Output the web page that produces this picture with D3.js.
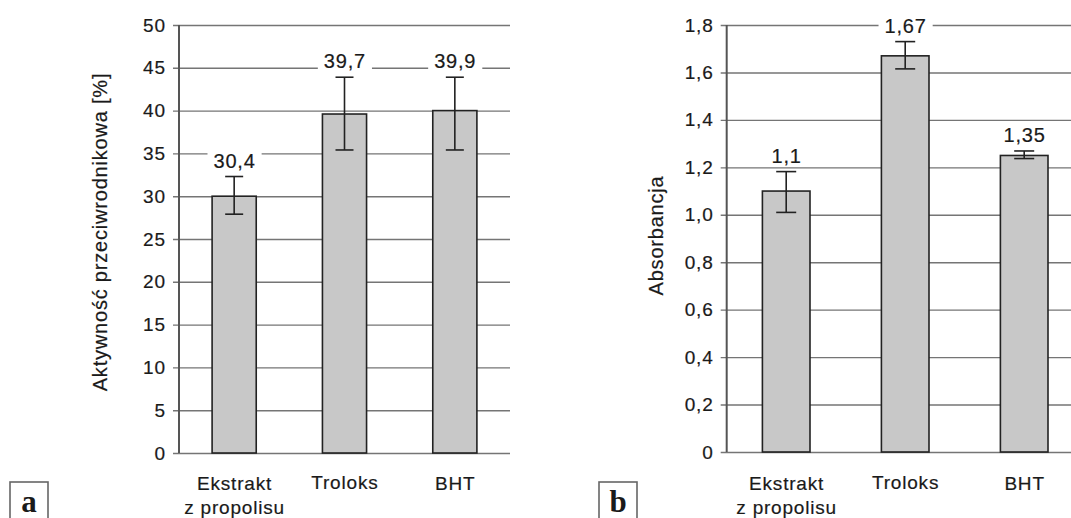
<!DOCTYPE html>
<html>
<head>
<meta charset="utf-8">
<script src="https://cdn.jsdelivr.net/npm/d3@7"></script>
<style>
  html, body { margin: 0; padding: 0; background: #fff; }
  svg { display: block; }
  text.t { font-family: "Liberation Sans", Arial, Helvetica, sans-serif; fill: #1a1a1a; stroke: #1a1a1a; stroke-width: 0.2; }
</style>
</head>
<body>
<svg id="chart" width="1071" height="518"></svg>
<script>
// ---- data ----
const categories = ["Ekstrakt z propolisu", "Troloks", "BHT"];
const categoryLines = [["Ekstrakt", "z propolisu"], ["Troloks"], ["BHT"]];

// panel a
const aValues   = [30.0, 39.6, 40.0];
const aErrLow   = [27.9, 35.4, 35.4];
const aErrHigh  = [32.3, 43.9, 43.9];
const aLabels   = ["30,4", "39,7", "39,9"];
const aTicks    = [0, 5, 10, 15, 20, 25, 30, 35, 40, 45, 50];
const aTitle    = "Aktywność przeciwrodnikowa [%]";

// panel b
const bValues   = [1.10, 1.67, 1.25];
const bErrLow   = [1.01, 1.615, 1.237];
const bErrHigh  = [1.182, 1.730, 1.269];
const bLabels   = ["1,1", "1,67", "1,35"];
const bTicks    = [0, 0.2, 0.4, 0.6, 0.8, 1.0, 1.2, 1.4, 1.6, 1.8];
const bTitle    = "Absorbancja";

const panelLetters = ["a", "b"];

// ---- drawing ----
const svg = d3.select("#chart");
const LS = 0.8;

function drawPanel(opt) {
  const g = svg.append("g");
  const x = d3.scaleBand().domain(categories).range([opt.x0, opt.x1]).paddingInner(0.6).paddingOuter(0.3);
  const y = d3.scaleLinear().domain([opt.ticks[0], opt.ticks[opt.ticks.length - 1]]).range([opt.yBottom, opt.yTop]);

  // gridlines + tick labels via axis
  const axis = d3.axisLeft(y).tickValues(opt.ticks).tickFormat(opt.fmt)
    .tickSizeInner(-(opt.x1 - opt.x0) - 6).tickSizeOuter(0).tickPadding(8);
  const ag = g.append("g").attr("transform", `translate(${opt.x0 - 6},0)`).call(axis);
  ag.select(".domain").remove();
  ag.selectAll(".tick line").attr("stroke", "#757575").attr("stroke-width", 1.4).attr("x1", 0)
    .attr("x2", opt.x1 - opt.x0 + 6);
  ag.selectAll(".tick text").attr("class", "t").attr("font-size", 19).attr("letter-spacing", LS)
    .attr("x", -8 + LS);

  // vertical axis line
  g.append("line").attr("x1", opt.x0).attr("x2", opt.x0)
    .attr("y1", y.range()[1]).attr("y2", y.range()[0])
    .attr("stroke", "#555").attr("stroke-width", 2);

  // bars
  g.selectAll("rect.bar").data(categories).join("rect").attr("class", "bar")
    .attr("x", d => x(d)).attr("width", x.bandwidth())
    .attr("y", (d, i) => y(opt.values[i]))
    .attr("height", (d, i) => y(0) - y(opt.values[i]))
    .attr("fill", "#c8c8c8").attr("stroke", "#222").attr("stroke-width", 1.6);

  // error bars
  const capW = opt.cap;
  categories.forEach((c, i) => {
    const cx = x(c) + x.bandwidth() / 2;
    const eg = g.append("g").attr("stroke", "#222").attr("stroke-width", 1.6);
    eg.append("line").attr("x1", cx).attr("x2", cx).attr("y1", y(opt.errLow[i])).attr("y2", y(opt.errHigh[i]));
    eg.append("line").attr("x1", cx - capW / 2).attr("x2", cx + capW / 2).attr("y1", y(opt.errLow[i])).attr("y2", y(opt.errLow[i]));
    eg.append("line").attr("x1", cx - capW / 2).attr("x2", cx + capW / 2).attr("y1", y(opt.errHigh[i])).attr("y2", y(opt.errHigh[i]));

    // value label with white background
    const lg = g.append("g");
    const bg = lg.append("rect").attr("fill", "#fff");
    const t = lg.append("text").attr("class", "t").attr("x", cx + LS / 2).attr("y", y(opt.errHigh[i]) - 16)
      .attr("text-anchor", "middle").attr("dominant-baseline", "central")
      .attr("font-size", 20).attr("letter-spacing", LS).text(opt.labels[i]);
    const bb = t.node().getBBox();
    bg.attr("x", bb.x - 6).attr("y", bb.y).attr("width", bb.width + 12).attr("height", bb.height);

    // category labels
    const ct = g.append("text").attr("class", "t").attr("text-anchor", "middle").attr("font-size", 19)
      .attr("letter-spacing", LS);
    categoryLines[i].forEach((ln, k) => {
      ct.append("tspan").attr("x", cx + LS / 2).attr("y", 490 + k * 24 - (c === "Troloks" ? 1.5 : 0)).text(ln);
    });
  });

  // y title
  g.append("text").attr("class", "t")
    .attr("transform", `translate(${opt.titleX},${opt.titleY}) rotate(-90)`)
    .attr("text-anchor", "middle").attr("dominant-baseline", "central")
    .attr("font-size", 20).attr("letter-spacing", LS).text(opt.title);

  // panel letter box
  g.append("rect").attr("x", opt.boxX).attr("y", 482).attr("width", 38).attr("height", 40)
    .attr("fill", "none").attr("stroke", "#666").attr("stroke-width", 1.6);
  g.append("text").attr("x", opt.boxX + 19).attr("y", 512).attr("text-anchor", "middle")
    .attr("font-family", "Liberation Serif, Times New Roman, serif").attr("font-weight", "bold")
    .attr("fill", "#1a1a1a").attr("font-size", 31).text(opt.letter);
}

const fmtA = d => String(d);
const fmtB = d => d === 0 ? "0" : d.toFixed(1).replace(".", ",");

drawPanel({ x0: 179, x1: 510, yTop: 25, yBottom: 453, ticks: aTicks, fmt: fmtA,
  values: aValues, errLow: aErrLow, errHigh: aErrHigh, labels: aLabels, cap: 18,
  title: aTitle, titleX: 100, titleY: 232, boxX: 10, letter: panelLetters[0] });

drawPanel({ x0: 726.7, x1: 1083.7, yTop: 25, yBottom: 452, ticks: bTicks, fmt: fmtB,
  values: bValues, errLow: bErrLow, errHigh: bErrHigh, labels: bLabels, cap: 20,
  title: bTitle, titleX: 656, titleY: 235.5, boxX: 599, letter: panelLetters[1] });
</script>
</body>
</html>
